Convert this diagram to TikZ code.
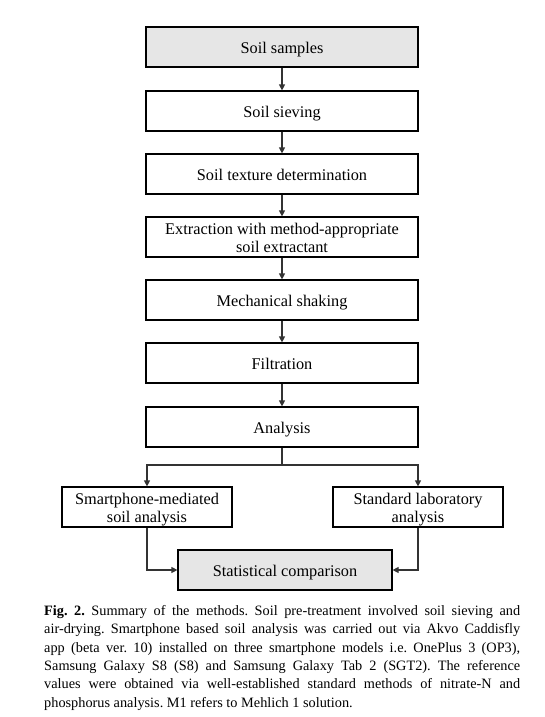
\documentclass[tikz,border=0pt]{standalone}
\usepackage{fontspec}
\setmainfont{Liberation Serif}
\usetikzlibrary{arrows.meta}
\definecolor{boxgray}{HTML}{E6E6E6}
\definecolor{linegray}{HTML}{333333}
\frenchspacing
\newcommand\mytwoline[2]{\raisebox{-3pt}[\height][\depth]{\begin{tabular}{@{}c@{}}#1\\#2\end{tabular}}}
\tikzset{
  box/.style={draw=black, line width=1.2pt, minimum width=272pt, minimum height=40pt,
    inner sep=0pt, align=center, text height=12.5pt, text depth=0pt,
    font=\fontsize{16.3}{18.5}\selectfont},
  twoline/.style={text height=, text depth=},
  shaded/.style={box, fill=boxgray},
  sidebox/.style={box, twoline, minimum width=170pt},
  arr/.style={draw=linegray, line width=1.2pt, -{Triangle[width=6pt,length=6pt]}},
  conn/.style={draw=linegray, line width=1.2pt},
  capline/.style={anchor=base west, inner sep=0pt, font=\fontsize{14.3}{18}\selectfont\frenchspacing}
}
\begin{document}
\begin{tikzpicture}[x=1pt,y=-1pt]
\useasboundingbox (0,0) rectangle (544,717);
\node[shaded] (s1) at (282,47) {Soil samples};
\node[box] (s2) at (282,111) {Soil sieving};
\node[box] (s3) at (282,174) {Soil texture determination};
\node[box, twoline] (s4) at (282,237) {\mytwoline{Extraction with method-appropriate}{soil extractant}};
\node[box] (s5) at (282,300) {Mechanical shaking};
\node[box] (s6) at (282,363) {Filtration};
\node[box] (s7) at (282,427) {Analysis};
\node[sidebox] (sm) at (147,507) {\mytwoline{Smartphone-mediated}{soil analysis}};
\node[sidebox] (sl) at (418,507) {\mytwoline{Standard laboratory}{analysis}};
\node[shaded, minimum width=214pt] (st) at (285,570) {Statistical comparison};
\draw[arr] (s1) -- (s2);
\draw[arr] (s2) -- (s3);
\draw[arr] (s3) -- (s4);
\draw[arr] (s4) -- (s5);
\draw[arr] (s5) -- (s6);
\draw[arr] (s6) -- (s7);
\coordinate (j) at (282,465);
\draw[conn] (s7.south) -- (j);
\draw[arr] (j) -| (sm.north);
\draw[arr] (j) -| (sl.north);
\draw[arr] (sm.south) |- (st.west);
\draw[arr] (sl.south) |- (st.east);
\node[capline] (c1) at (44,615) {\makebox[476pt][s]{\textbf{Fig. 2.} Summary of the methods. Soil pre-treatment involved soil sieving and}};
\node[capline] (c2) at (44,633.5) {\makebox[476pt][s]{air-drying. Smartphone based soil analysis was carried out via Akvo Caddisfly}};
\node[capline] (c3) at (44,652) {\makebox[476pt][s]{app (beta ver. 10) installed on three smartphone models i.e. OnePlus 3 (OP3),}};
\node[capline] (c4) at (44,670) {\makebox[476pt][s]{Samsung Galaxy S8 (S8) and Samsung Galaxy Tab 2 (SGT2). The reference}};
\node[capline] (c5) at (44,688.5) {\makebox[476pt][s]{values were obtained via well-established standard methods of nitrate-N and}};
\node[capline] (c6) at (44,707) {phosphorus analysis. M1 refers to Mehlich 1 solution.};
\end{tikzpicture}
\end{document}
